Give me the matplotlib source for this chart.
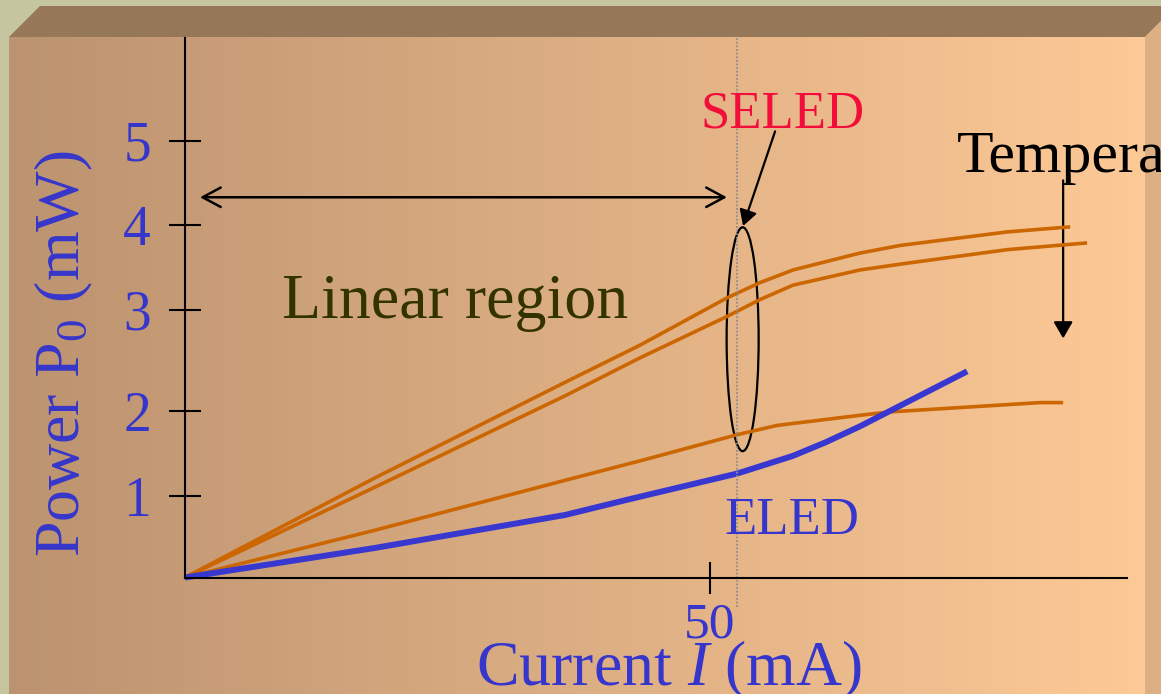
import numpy as np
import matplotlib.pyplot as plt
from matplotlib.patches import Polygon, Ellipse, FancyArrowPatch, ArrowStyle

plt.rcParams['font.family'] = 'Liberation Serif'
plt.rcParams['mathtext.fontset'] = 'custom'
plt.rcParams['mathtext.rm'] = 'Liberation Serif'
plt.rcParams['mathtext.it'] = 'Liberation Serif:italic'

# curves (current in mA, power in mW)
current_seled_a = [0, 18.1, 36.19, 43.33, 51.62, 54.76, 57.9, 64.29, 68.1, 78.29, 84.29]
power_seled_a = [0, 1.18, 2.31, 2.75, 3.31, 3.49, 3.64, 3.84, 3.93, 4.09, 4.15]
current_seled_b = [0, 18.1, 36.19, 43.33, 51.62, 54.76, 57.9, 64.29, 68.76, 78.29, 85.9]
power_seled_b = [0, 1.07, 2.15, 2.60, 3.09, 3.29, 3.46, 3.64, 3.72, 3.88, 3.96]
current_seled_c = [0, 18.1, 36.19, 43.62, 52.57, 56.38, 64.29, 67.14, 81.43, 83.62]
power_seled_c = [0, 0.56, 1.15, 1.39, 1.69, 1.80, 1.92, 1.96, 2.07, 2.07]
current_eled = [0, 18.1, 36.19, 42.1, 52.57, 57.9, 61.0, 64.29, 66.48, 74.48]
power_eled = [0, 0.35, 0.74, 0.92, 1.23, 1.44, 1.60, 1.79, 1.93, 2.44]

ytick_pos = [0.97, 1.97, 3.17, 4.17, 5.17]
ytick_labels = ['1', '2', '3', '4', '5']
xtick_pos = [50]
xtick_labels = ['50']

BLUE = '#3636CC'
ORANGE = '#CC6600'

W, H = 1161, 694
fig = plt.figure(figsize=(W / 100, H / 100), dpi=100)
fig.patch.set_facecolor('#C5C69F')

## slide background: a 3d box in pixel coords
bg = fig.add_axes([0, 0, 1, 1])
bg.axis('off')
grad = np.linspace(0, 1, 256)
c0 = np.array([188, 147, 112]) / 255
c1 = np.array([253, 201, 150]) / 255
img = c0[None, :] * (1 - grad[:, None]) + c1[None, :] * grad[:, None]
bg.imshow(img[None, :, :], extent=[9, 1145, H, 37], aspect='auto', zorder=1)
bg.add_patch(Polygon([[9, 37], [40, 6], [1176, 6], [1145, 37]], closed=True,
                     facecolor='#967859', edgecolor='none', zorder=2))
bg.add_patch(Polygon([[1145, 37], [1176, 6], [1176, H], [1145, H]], closed=True,
                     facecolor='#DCB083', edgecolor='none', zorder=2))
bg.set_xlim(0, W)
bg.set_ylim(H, 0)

## main plot
ax = fig.add_axes([185 / W, (H - 577.5) / H, 942 / W, 539.5 / H])
ax.patch.set_alpha(0)
ax.set_xlim(0, 89.7)
ax.set_ylim(0, 6.385)
for s in ['top', 'right']:
    ax.spines[s].set_visible(False)
for s in ['left', 'bottom']:
    ax.spines[s].set_linewidth(1.5)

ax.plot(current_seled_a, power_seled_a, color=ORANGE, lw=2.6, solid_capstyle='butt', clip_on=False)
ax.plot(current_seled_b, power_seled_b, color=ORANGE, lw=2.6, solid_capstyle='butt', clip_on=False)
ax.plot(current_seled_c, power_seled_c, color=ORANGE, lw=2.6, solid_capstyle='butt', clip_on=False)
ax.plot(current_eled, power_eled, color='#3838D0', lw=4.3, solid_capstyle='butt', clip_on=False)

ax.set_yticks(ytick_pos)
ax.set_yticklabels(ytick_labels)
ax.set_xticks(xtick_pos)
ax.set_xticklabels(xtick_labels)
ax.tick_params(axis='both', direction='inout', length=23, width=1.5, colors='black',
               labelcolor=BLUE)
ax.tick_params(axis='y', labelsize=40, pad=13)
ax.tick_params(axis='x', labelsize=37, pad=6)

# dotted marker line at ~52.6 mA
ax.plot([52.57, 52.57], [-0.35, 6.385], color='#8E8E8E', lw=1.3, dashes=(1, 1),
        clip_on=False)

# linear region arrow
ax.add_patch(FancyArrowPatch((1.43, 4.50), (51.6, 4.50),
                             arrowstyle=ArrowStyle('<->', head_length=13, head_width=7),
                             mutation_scale=1, lw=1.8, color='black', shrinkA=0, shrinkB=0))
ax.text(25.76, 3.07, 'Linear region', fontsize=46, color='#333300', ha='center', va='baseline')

# SELED label + ellipse
ax.add_patch(Ellipse((53.1, 2.82), 3.05, 2.65, facecolor='none', edgecolor='black', lw=1.6))
ax.add_patch(FancyArrowPatch((56.19, 5.28), (53.14, 4.16),
                             arrowstyle=ArrowStyle('-|>', head_length=9.5, head_width=5.4),
                             mutation_scale=1, lw=1.6, color='black', shrinkA=0, shrinkB=0))
ax.text(49.05, 5.32, 'SELED', fontsize=38, color='#F20D3A', ha='left', va='baseline')
ax.text(51.33, 0.515, 'ELED', fontsize=38, color=BLUE, ha='left', va='baseline')

# temperature arrow
ax.add_patch(FancyArrowPatch((83.62, 4.70), (83.62, 2.83),
                             arrowstyle=ArrowStyle('-|>', head_length=10, head_width=5.8),
                             mutation_scale=1, lw=1.6, color='black', shrinkA=0, shrinkB=0,
                             clip_on=False))
ax.text(73.5, 4.80, 'Temperature', fontsize=43, color='black', ha='left', va='baseline',
        clip_on=False)

# axis titles
fig.text(64 / W, 1 - 354 / H, 'Power P$_0$ (mW)', fontsize=46, color=BLUE, rotation=90,
         ha='center', va='center')
fig.text(669 / W, 9 / H, 'Current $I$ (mA)', fontsize=46, color=BLUE, ha='center',
         va='baseline')

fig.savefig('out.png', dpi=100, facecolor=fig.get_facecolor())
